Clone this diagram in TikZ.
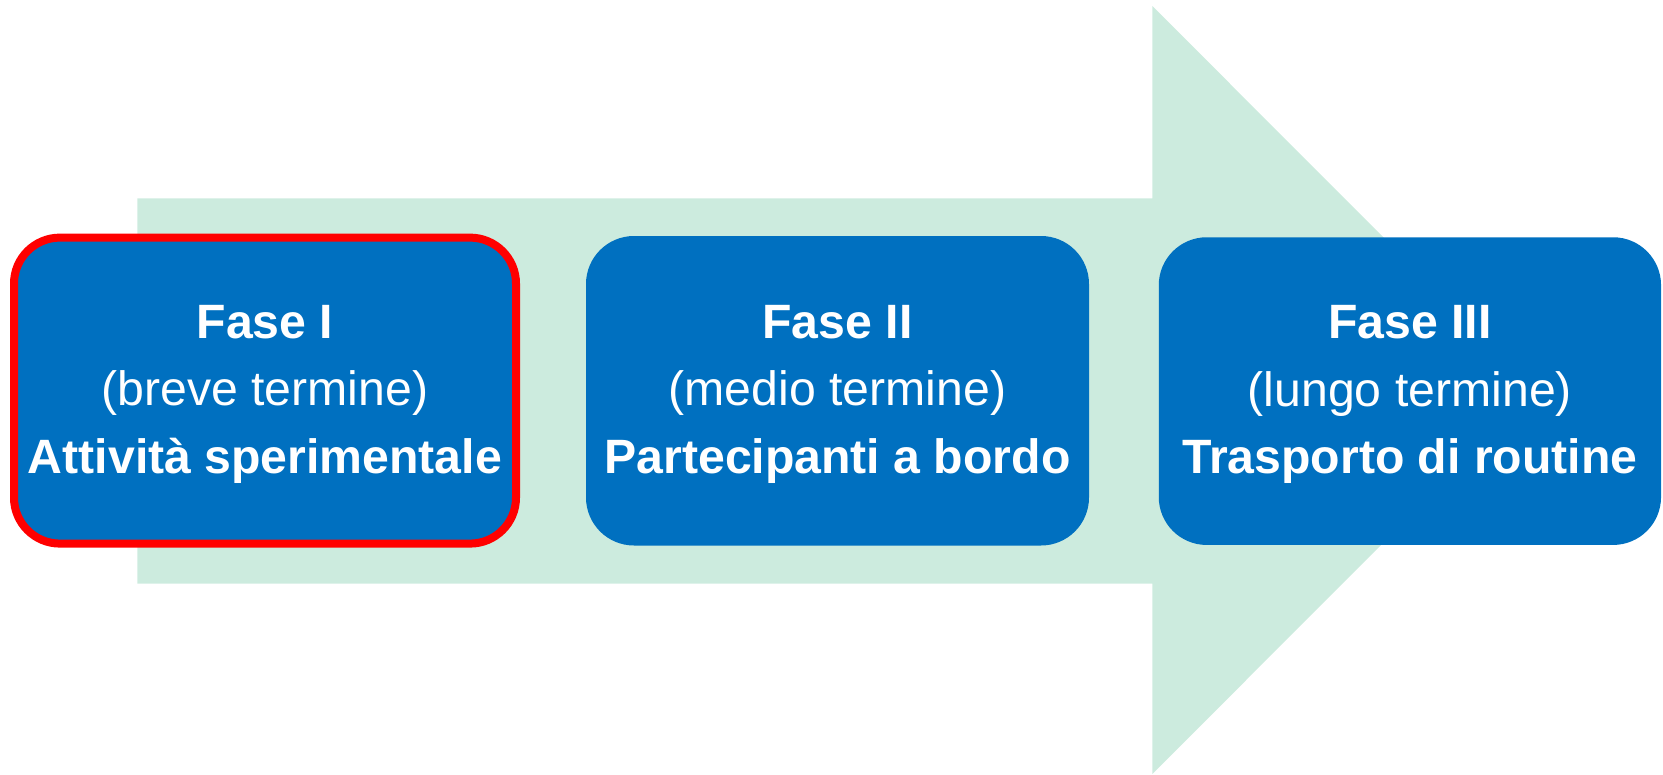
\documentclass[tikz,border=0pt]{standalone}
\usepackage{fontspec}
\setmainfont{Liberation Sans}
\definecolor{arrowgreen}{RGB}{204,235,222}
\definecolor{phaseblue}{RGB}{0,112,192}
\definecolor{hired}{RGB}{255,0,0}
\begin{document}
\begin{tikzpicture}[x=1pt,y=-1pt,
  phasebox/.style={fill=phaseblue,draw=none,rounded corners=48pt,inner sep=0pt,outer sep=0pt},
  phasetxt/.style={text=white,align=center,inner sep=0pt,font=\fontsize{48.2}{67.6}\selectfont},
  bigarrow/.style={fill=arrowgreen,draw=none}]
\useasboundingbox (0,0) rectangle (1663,774);
% big arrow
\path[bigarrow] (137.3,198.3) -- (1152.3,198.3) -- (1152.3,6) -- (1536,390)
  -- (1152.3,774) -- (1152.3,583.7) -- (137.3,583.7) -- cycle;
% boxes
\node[phasebox,draw=hired,line width=8pt,rounded corners=46pt,
  minimum width=502pt,minimum height=306pt] (b1) at (265,390.6) {};
\node[phasebox,minimum width=503pt,minimum height=309.5pt] (b2) at (837.5,390.75) {};
\node[phasebox,minimum width=502.3pt,minimum height=307.7pt] (b3) at (1409.9,391.1) {};
% texts
\node[phasetxt] (t1) at ([yshift=-3.5pt]b1.center) {\textbf{Fase I}\\(breve termine)\\\textbf{Attività sperimentale}};
\node[phasetxt] (t2) at ([yshift=-3.5pt]b2.center) {\textbf{Fase II}\\(medio termine)\\\textbf{Partecipanti a bordo}};
\node[phasetxt] (t3) at ([yshift=-3.5pt]b3.center) {\textbf{Fase III}\\(lungo termine)\\\textbf{Trasporto di routine}};
\end{tikzpicture}
\end{document}
